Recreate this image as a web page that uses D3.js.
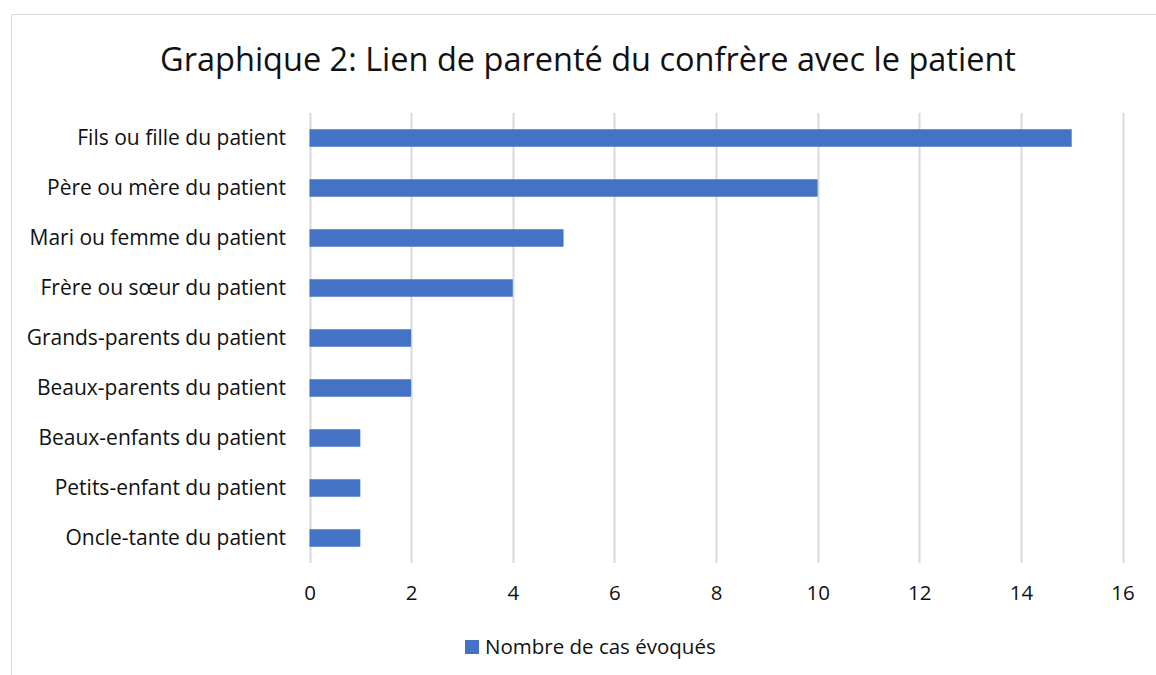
<!DOCTYPE html>
<html>
<head>
<meta charset="utf-8">
<script src="https://cdn.jsdelivr.net/npm/d3@7"></script>
<style>
  body { margin: 0; background: #fff; }
  svg { display: block; font-family: "Open Sans", sans-serif; }
</style>
</head>
<body>
<div id="chart"></div>
<script>
var categories = [
  "Fils ou fille du patient",
  "Père ou mère du patient",
  "Mari ou femme du patient",
  "Frère ou sœur du patient",
  "Grands-parents du patient",
  "Beaux-parents du patient",
  "Beaux-enfants du patient",
  "Petits-enfant du patient",
  "Oncle-tante du patient"
]
var values = [15, 10, 5, 4, 2, 2, 1, 1, 1]
var xTicks = [0, 2, 4, 6, 8, 10, 12, 14, 16]
var seriesName = "Nombre de cas évoqués"
var title = "Graphique 2: Lien de parenté du confrère avec le patient"

var width = 1156, height = 675
var color = "#4472C4"

var svg = d3.select("#chart").append("svg")
  .attr("width", width)
  .attr("height", height)

// chart frame (only left and top edges are in view)
svg.append("rect")
  .attr("x", 11.5).attr("y", 14.5)
  .attr("width", width + 20).attr("height", height + 20)
  .attr("fill", "none")
  .attr("stroke", "#d9d9d9")

var x = d3.scaleLinear().domain([0, 16]).range([309.5, 1122.5])
var y = d3.scaleBand().domain(categories).range([113, 563]).paddingInner(0.65).paddingOuter(0.325)

svg.append("text")
  .attr("x", 588).attr("y", 71)
  .attr("text-anchor", "middle")
  .attr("font-size", 32.5)
  .attr("fill", "#111")
  .text(title)

// vertical gridlines
svg.append("g").selectAll("line")
  .data(xTicks)
  .enter().append("line")
  .attr("x1", function(d) { return Math.round(x(d)) + 0.5 })
  .attr("x2", function(d) { return Math.round(x(d)) + 0.5 })
  .attr("y1", 113).attr("y2", 563)
  .attr("stroke", "#d9d9d9")
  .attr("stroke-width", 2)

// bars
svg.append("g").selectAll("rect")
  .data(values)
  .enter().append("rect")
  .attr("x", x(0))
  .attr("y", function(d, i) { return y(categories[i]) })
  .attr("width", function(d) { return x(d) - x(0) })
  .attr("height", y.bandwidth())
  .attr("fill", color)

// category labels
svg.append("g").selectAll("text")
  .data(categories)
  .enter().append("text")
  .attr("x", 286)
  .attr("y", function(d) { return y(d) + y.bandwidth() / 2 })
  .attr("dy", "0.35em")
  .attr("text-anchor", "end")
  .attr("font-size", 21)
  .attr("fill", "#111")
  .text(function(d) { return d })

// x axis labels
var xAxis = d3.axisBottom(x).tickValues(xTicks).tickSize(0).tickPadding(0)
var gx = svg.append("g")
  .attr("transform", "translate(0,586)")
  .call(xAxis)
gx.select(".domain").remove()
gx.selectAll("text")
  .attr("font-family", "'Open Sans', sans-serif")
  .attr("font-size", 20.5)
  .attr("fill", "#111")
  .attr("dy", "0.7em")
  .attr("y", 0)

// legend
var legend = svg.append("g").attr("transform", "translate(465,640)")
legend.append("rect")
  .attr("width", 14).attr("height", 14)
  .attr("fill", color)
legend.append("text")
  .attr("x", 20).attr("y", 7)
  .attr("dy", "0.35em")
  .attr("font-size", 20.5)
  .attr("fill", "#111")
  .text(seriesName)
</script>
</body>
</html>
